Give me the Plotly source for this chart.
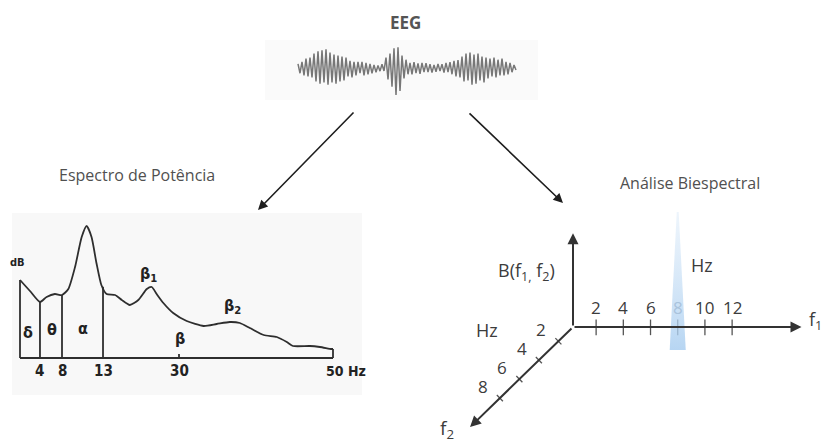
import numpy as np
import plotly.graph_objects as go

W, H = 822, 443

# ------------------------------------------------------------------ data
# EEG trace (arbitrary µV), read stroke by stroke from the picture
EEG_UV = [20, -25, 30, -35,
          45, -40, 50, -45,
          70, -65, 80, -75, 85, -70, 90, -80, 75,
          -70, 65, -75, 60, -65, 55, -60, 50,
          -40, 35, -45, 30, -35, 30, -25,
          30, -35, 25, -30, 20, -25,
          15, -20, 12, -15, 18, -14,
          50, -55, 70,
          -90, 95, -130, 100, -110,
          60, -50, 40,
          -30, 25, -30, 28, -25, 22, -28, 25, -20, 24,
          -20, 18, -22, 15, -18, 20, -15, 18, -22, 25, -20, 28,
          -30, 35, -40, 38, -45,
          55, -65, 70, -60, 75,
          -80, 65, -75, 70, -60, 55, -70, 50,
          -50, 45, -40, 50, -45, 40, -35, 45,
          -35, 30, -30, 25, -20, 15, -10]

# Power spectrum curve (Hz, relative dB)
SPEC_HZ = [0, 2, 4, 5.2, 6.7, 8, 8.77, 9.59, 10.4, 11.0, 11.6, 12.2, 12.8,
           13.8, 15.7, 17.2, 19.0, 20.9, 22.8, 23.9, 25.0, 26.5, 28.7,
           31.0, 33.2, 34.9, 36.6, 37.9, 39.2, 41.0, 42.7, 44.0, 44.8,
           47.0, 48.3, 49.8, 50]
SPEC_DB = [7.8, 6.7, 5.6, 6.1, 6.4, 6.3, 6.9, 9.1, 12.1, 13.2, 12.1, 9.5, 7.3,
           6.4, 6.3, 5.8, 5.3, 5.8, 6.9, 7.1, 6.4, 5.5, 4.5,
           3.7, 3.2, 3.4, 3.6, 3.5, 3.0, 2.3, 2.1, 1.6, 1.2,
           1.2, 1.1, 0.9, 0.9]
BAND_EDGES_HZ = [4, 8, 13]
SPEC_TICKS = ["4", "8", "13", "30"]
SPEC_TICK_HZ = [4, 8, 13, 30]
BANDS = [("δ", 1.6, 2.6), ("θ", 6.2, 2.9), ("α", 10.6, 3.0), ("β", 30.1, 2.0),
         ("β<sub>1</sub>", 23.1, 8.4), ("β<sub>2</sub>", 36.9, 5.2)]

# Bispectrum axis ticks (Hz)
F1_TICKS = [2, 4, 6, 8, 10, 12]
F2_TICKS = [2, 4, 6, 8]
HIGHLIGHT_F1 = 8

# ------------------------------------------------------------------ scales
# the printed spectrum uses a non-uniform frequency axis
WARP_HZ = [0, 4, 8, 13, 30, 50]
WARP_U = [0, 3.19, 6.71, 13.26, 25.4, 50]


def warp(hz):
    return np.interp(hz, WARP_HZ, WARP_U)


def px_dom(a, b, total):
    return [a / total, b / total]


def py_dom(top, bottom):
    return [1 - bottom / H, 1 - top / H]


S = 13.6  # px per unit in bispectrum diagram
F1_OFF = -0.3
F2_OFF = -0.5
DIR2 = np.array([-0.717, -0.697])
PERP2 = np.array([0.697, -0.717])

fig = go.Figure()

DARK = "#2e2e2e"
SPEC_FONT = "DejaVu Sans Condensed, Liberation Sans Narrow, Arial Narrow, sans-serif"
LABEL_FONT = "Open Sans, Lato, sans-serif"
GREY_TXT = "#3c3c3c"

# ---------------- EEG trace (axes x4/y4)
t = np.arange(len(EEG_UV))
fig.add_trace(go.Scatter(x=t, y=EEG_UV, mode="lines", xaxis="x4", yaxis="y4",
                         line=dict(color="#777777", width=1.5), hoverinfo="skip"))

# ---------------- Power spectrum (axes x2/y2)
u = warp(SPEC_HZ)
fig.add_trace(go.Scatter(x=u, y=SPEC_DB, mode="lines", xaxis="x2", yaxis="y2",
                         line=dict(color=DARK, width=1.8, shape="spline", smoothing=0.6),
                         hoverinfo="skip"))
# box: baseline, left and right edges, band boundaries
edge_x, edge_y = [], []
for hz in [0] + BAND_EDGES_HZ + [50]:
    top = float(np.interp(hz, SPEC_HZ, SPEC_DB))
    edge_x += [warp(hz), warp(hz), None]
    edge_y += [0, top, None]
edge_x += [warp(0), warp(50), None]
edge_y += [0, 0, None]
edge_x += [warp(30), warp(30)]
edge_y += [0, 0.4]
fig.add_trace(go.Scatter(x=edge_x, y=edge_y, mode="lines", xaxis="x2", yaxis="y2",
                         line=dict(color=DARK, width=1.8), hoverinfo="skip"))

# ---------------- Bispectrum diagram (axes x3/y3)
tick_x, tick_y = [], []
for f in F1_TICKS:
    p = f + F1_OFF
    tick_x += [p, p, None]
    tick_y += [-0.6, 0.55, None]
for f in F2_TICKS:
    c = (f + F2_OFF) * DIR2
    a = c - 0.32 * PERP2
    b = c + 0.32 * PERP2
    tick_x += [a[0], b[0], None]
    tick_y += [a[1], b[1], None]
fig.add_trace(go.Scatter(x=tick_x, y=tick_y, mode="lines", xaxis="x3", yaxis="y3",
                         line=dict(color="#555555", width=1.3), hoverinfo="skip"))

# highlight beam at f1 = 8 Hz
bx = HIGHLIGHT_F1 + F1_OFF
fig.add_trace(go.Scatter(x=[bx - 0.59, bx - 0.07, bx + 0.07, bx + 0.59, bx - 0.59],
                         y=[-1.69, 8.46, 8.46, -1.69, -1.69],
                         mode="lines", fill="toself", xaxis="x3", yaxis="y3",
                         line=dict(width=0, color="rgba(0,0,0,0)"),
                         fillgradient=dict(type="vertical",
                                           colorscale=[[0, "rgba(170,206,240,0.85)"],
                                                       [1, "rgba(205,226,246,0.35)"]]),
                         hoverinfo="skip"))

ann = []
# axis arrows
f1_end, up_end = 16.8, 6.9
f2_end = 10.56 * DIR2
for tip in [(0, up_end), (f1_end, 0), (f2_end[0], f2_end[1])]:
    ann.append(dict(x=tip[0], y=tip[1], ax=0, ay=0, xref="x3", yref="y3",
                    axref="x3", ayref="y3", text="", showarrow=True,
                    arrowhead=2, arrowsize=1.1, arrowwidth=2, arrowcolor="#333333"))

bfont = dict(family=LABEL_FONT, size=17, color=GREY_TXT)
for f in F1_TICKS:
    col = "#a9c3dc" if f == HIGHLIGHT_F1 else GREY_TXT
    ann.append(dict(x=f + F1_OFF, y=1.45, xref="x3", yref="y3", text=str(f),
                    xanchor="center", showarrow=False,
                    font=dict(family=LABEL_FONT, size=17, color=col)))
for f in F2_TICKS:
    c = (f + F2_OFF) * DIR2
    ann.append(dict(x=c[0] - 1.25, y=c[1] + 0.85, xref="x3", yref="y3", text=str(f),
                    xanchor="center", showarrow=False, font=bfont))
ann += [
    dict(x=-3.45, y=4.1, xref="x3", yref="y3", text="B(f<sub>1,</sub> f<sub>2</sub>)",
         xanchor="center", showarrow=False,
         font=dict(family=LABEL_FONT, size=18, color=GREY_TXT)),
    dict(x=9.5, y=4.55, xref="x3", yref="y3", text="Hz", showarrow=False,
         xanchor="center", font=dict(family=LABEL_FONT, size=18, color=GREY_TXT)),
    dict(x=-6.3, y=-0.2, xref="x3", yref="y3", text="Hz", showarrow=False,
         xanchor="center", font=dict(family=LABEL_FONT, size=18, color=GREY_TXT)),
    dict(x=17.2, y=0.45, xref="x3", yref="y3", text="f<sub>1</sub>", showarrow=False,
         xanchor="left", font=dict(family=LABEL_FONT, size=18, color=GREY_TXT)),
    dict(x=-9.25, y=-7.5, xref="x3", yref="y3", text="f<sub>2</sub>", showarrow=False,
         xanchor="center", font=dict(family=LABEL_FONT, size=19, color=GREY_TXT)),
]

# spectrum labels
sfont = dict(family=SPEC_FONT, size=15, color="#222222")
for lab, hz in zip(SPEC_TICKS, SPEC_TICK_HZ):
    ann.append(dict(x=warp(hz), y=-1.25, xref="x2", yref="y2", text=f"<b>{lab}</b>",
                    xanchor="center", showarrow=False, font=sfont))
ann.append(dict(x=warp(50), y=-1.25, xref="x2", yref="y2", text="<b>50 Hz</b>",
                xanchor="left", xshift=-9, showarrow=False,
                font=dict(family=SPEC_FONT, size=14, color="#222222")))
ann.append(dict(x=warp(0), y=9.6, xref="x2", yref="y2", text="<b>dB</b>", xshift=-3,
                xanchor="center", showarrow=False,
                font=dict(family=SPEC_FONT, size=11, color="#222222")))
for lab, hz, db in BANDS:
    ann.append(dict(x=warp(hz), y=db, xref="x2", yref="y2", text=f"<b>{lab}</b>",
                    xanchor="center", showarrow=False,
                    font=dict(family=SPEC_FONT, size=16, color="#222222")))

# titles
tfont = dict(family=LABEL_FONT, size=16, color="#505050")
ann += [
    dict(x=405 / W, y=1 - 22 / H, xref="paper", yref="paper", text="<b>EEG</b>",
         xanchor="center", yanchor="middle", showarrow=False,
         font=dict(family=LABEL_FONT, size=17, color="#555555")),
    dict(x=137 / W, y=1 - 175 / H, xref="paper", yref="paper", text="Espectro de Potência",
         xanchor="center", yanchor="middle", showarrow=False, font=tfont),
    dict(x=690 / W, y=1 - 183 / H, xref="paper", yref="paper", text="Análise Biespectral",
         xanchor="center", yanchor="middle", showarrow=False, font=tfont),
]
# flow arrows
for tip, tail in [((258, 210), (355, 111)), ((563, 203), (468, 112))]:
    ann.append(dict(x=tip[0] / W, y=1 - tip[1] / H, xref="paper", yref="paper",
                    ax=tail[0] - tip[0], ay=tail[1] - tip[1], text="", showarrow=True,
                    arrowhead=2, arrowsize=1.2, arrowwidth=1.6, arrowcolor="#1e1e1e"))

shapes = [
    dict(type="rect", xref="paper", yref="paper", x0=12 / W, x1=362 / W,
         y0=1 - 395 / H, y1=1 - 213 / H, fillcolor="#f8f8f8", line=dict(width=0),
         layer="below"),
    dict(type="rect", xref="paper", yref="paper", x0=265 / W, x1=538 / W,
         y0=1 - 100 / H, y1=1 - 40 / H, fillcolor="#fafafa", line=dict(width=0),
         layer="below"),
]

hidden = dict(visible=False, showgrid=False, zeroline=False, fixedrange=True)
px_per_u = 313 / 50
eeg_n = len(EEG_UV)
fig.update_layout(
    width=W, height=H, margin=dict(l=0, r=0, t=0, b=0),
    paper_bgcolor="white", plot_bgcolor="rgba(0,0,0,0)", showlegend=False,
    annotations=ann, shapes=shapes,
    xaxis2=dict(domain=px_dom(12, 362, W), range=[(12 - 20) / px_per_u, (362 - 20) / px_per_u],
                anchor="y2", **hidden),
    yaxis2=dict(domain=py_dom(215, 400), range=[-4.2, 14.3], anchor="x2", **hidden),
    xaxis3=dict(domain=px_dom(430, 822, W), range=[(430 - 573) / S, (822 - 573) / S],
                anchor="y3", **hidden),
    yaxis3=dict(domain=py_dom(170, 443), range=[-(443 - 327) / S, (327 - 170) / S],
                anchor="x3", **hidden),
    xaxis4=dict(domain=px_dom(297, 517, W), range=[-0.5, eeg_n - 0.5], anchor="y4", **hidden),
    yaxis4=dict(domain=py_dom(40, 100), range=[-154, 135], anchor="x4", **hidden),
    xaxis=dict(visible=False), yaxis=dict(visible=False),
)

fig.write_html("out.html")
